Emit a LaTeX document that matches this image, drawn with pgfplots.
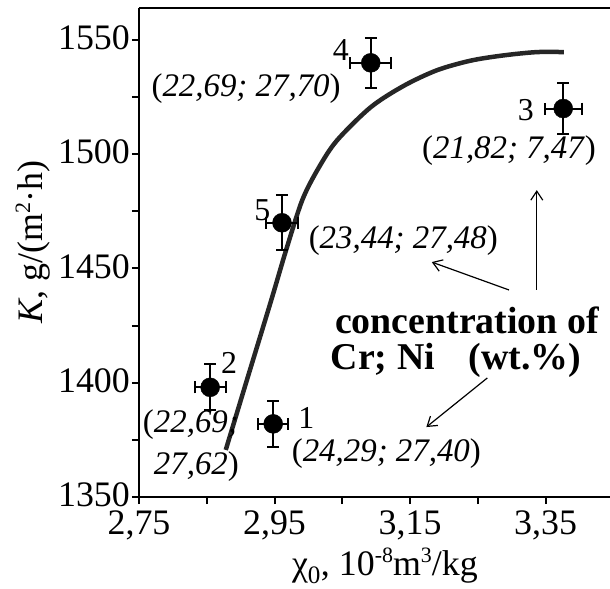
\documentclass[border=0pt]{standalone}
\usepackage{fontspec}
\setmainfont{Liberation Serif}
\usepackage{pgfplots}
\pgfplotsset{compat=1.18}
\usetikzlibrary{arrows.meta}
\begin{document}
\begin{tikzpicture}
\begin{axis}[
  name=ax,
  scale only axis,
  width=471bp, height=489bp,
  xmin=2.75, xmax=3.445,
  ymin=1350, ymax=1564,
  axis lines*=left,
  axis line style={line width=2.4bp},
  tick style={line width=2bp, black},
  tick align=outside,
  major tick length=7bp, minor tick length=7bp,
  xtick={2.75,2.95,3.15,3.35},
  ytick={1350,1400,1450,1500,1550},
  minor x tick num=1, minor y tick num=1,
  /pgf/number format/assume math mode=true,
  tick label style={font=\fontsize{36}{40}\selectfont, inner sep=2bp},
  xticklabel style={yshift=-5bp, /pgf/number format/.cd, fixed, fixed zerofill, precision=2, use comma},
  yticklabel style={yshift=2bp, /pgf/number format/.cd, fixed, 1000 sep={}},
  xlabel={χ\textsubscript{0}, 10\raisebox{0.35em}{\fontsize{22}{24}\selectfont -8}m\raisebox{0.35em}{\fontsize{22}{24}\selectfont 3}/kg},
  ylabel={\textit{K}, g/(m\raisebox{0.35em}{\fontsize{22}{24}\selectfont 2}·h)},
  label style={font=\fontsize{36}{40}\selectfont},
  xlabel style={at={(axis description cs:0.522,-0.16)}, anchor=base},
  ylabel style={at={(axis description cs:-0.225,0.521)}, anchor=center},
  clip=false,
]
\draw[line width=2.4bp] (rel axis cs:0,1) -- (rel axis cs:1,1);
\addplot[color=black!85, line width=4.5bp, smooth, tension=0.5] coordinates {
 (2.878,1370.6) (2.908,1400) (2.945,1436) (2.967,1458) (2.991,1480)
 (3.015,1494) (3.042,1506) (3.092,1520.6) (3.141,1530) (3.190,1536.8)
 (3.240,1541) (3.289,1543.3) (3.337,1544.7) (3.377,1544.7)
};
\addplot[black, mark=none, draw=none, forget plot, line width=2bp,
  error bars/.cd, x dir=both, x explicit, y dir=both, y explicit,
  error bar style={draw=black, line width=2bp},
  error mark options={draw=black, line width=2bp, mark size=6bp, rotate=90}]
 coordinates {
 (2.948,1382) +- (0.022,10)
 (2.855,1398) +- (0.023,10)
 (3.376,1520) +- (0.027,11)
 (3.092,1540) +- (0.030,11)
 (2.961,1470) +- (0.024,12)
};
\addplot[only marks, mark=*, black, mark size=9.5bp] coordinates {
 (2.948,1382) (2.855,1398) (3.376,1520) (3.092,1540) (2.961,1470)
};
\begin{scope}[every node/.style={font=\fontsize{32}{36}\selectfont, inner sep=0pt}]
\node at (axis cs:3.048,1545.5) {4};
\node at (axis cs:3.321,1519.3) {3};
\node at (axis cs:2.932,1475.5) {5};
\node at (axis cs:2.883,1408.6) {2};
\node at (axis cs:2.997,1384.5) {1};
\end{scope}
\begin{scope}[every node/.style={font=\fontsize{33}{36}\selectfont, inner sep=0pt}]
\node at (axis cs:2.908,1528.9) {(\textit{22,69; 27,70})};
\node at (axis cs:3.296,1501.8) {(\textit{21,82; 7,47})};
\node at (axis cs:3.140,1462.4) {(\textit{23,44; 27,48})};
\node[anchor=east] at (axis cs:2.8976,1381.5) {(\textit{22,69;}};
\node[anchor=east] at (axis cs:2.8976,1363.1) {\textit{27,62})};
\node at (axis cs:3.115,1369.0) {(\textit{24,29; 27,40})};
\end{scope}
\begin{scope}[every node/.style={font=\fontsize{38}{42}\selectfont\bfseries, inner sep=0pt}]
\node at (axis cs:3.234,1427.4) {concentration of};
\node at (axis cs:3.218,1409.9) {Cr; Ni\hspace{0.9em}(wt.\%)};
\end{scope}
\begin{scope}[line width=1.2bp, -{Straight Barb[length=9bp, width=12bp]}]
\draw (axis cs:3.337,1440.6) -- (axis cs:3.337,1484.3);
\draw (axis cs:3.296,1440.6) -- (axis cs:3.182,1452.8);
\draw (axis cs:3.264,1402.1) -- (axis cs:3.174,1380.6);
\end{scope}
\end{axis}
\pgfresetboundingbox
\path ([shift={(-139bp,-92bp)}]ax.south west) rectangle ([shift={(0bp,8bp)}]ax.north east);
\end{tikzpicture}
\end{document}
